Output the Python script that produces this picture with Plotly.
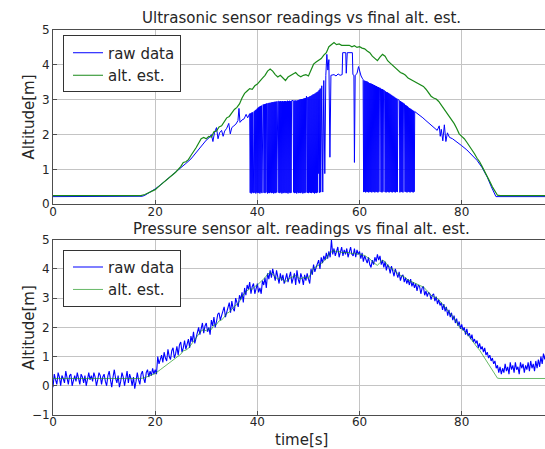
import plotly.graph_objects as go

# ---------------- data ----------------
# final altitude estimate (shared by both panels)
est_t = [0, 17.2, 18, 19, 20, 21, 22, 23, 24, 25,
         25.5, 26, 26.5, 27, 28, 29, 29.5, 30, 30.5, 31,
         31.5, 32, 32.5, 33, 33.5, 34, 34.5, 35, 35.5, 36,
         36.5, 37, 37.5, 38, 38.5, 39, 39.5, 40, 40.5, 41,
         41.5, 42, 42.5, 43, 43.5, 44, 44.5, 45, 45.5, 46,
         46.5, 47, 47.5, 48, 48.5, 49, 49.5, 50, 50.5, 51,
         51.5, 52, 52.5, 53, 53.5, 54, 54.5, 55, 55.5, 56,
         56.5, 57, 57.5, 58, 58.5, 59, 59.5, 60, 60.5, 61,
         61.5, 62, 62.5, 63, 63.5, 64, 64.5, 65, 65.5, 66,
         66.5, 67, 67.5, 68, 68.5, 69, 69.5, 70, 70.5, 71,
         71.5, 72, 72.5, 73, 73.5, 74, 74.5, 75, 75.5, 76,
         76.5, 77, 77.5, 78, 78.5, 79, 79.5, 80, 80.5, 81,
         81.5, 82, 82.5, 83, 83.5, 84, 84.5, 85, 85.5, 86,
         86.5, 87, 87.5, 100]
est_v = [0.25, 0.25, 0.28, 0.35, 0.42, 0.55, 0.68, 0.80, 0.92, 1.08,
         1.20, 1.22, 1.28, 1.40, 1.62, 1.88, 1.92, 1.88, 1.95, 1.93,
         2.08, 2.10, 2.22, 2.25, 2.35, 2.48, 2.52, 2.62, 2.72, 2.78,
         2.88, 3.05, 3.18, 3.25, 3.32, 3.30, 3.40, 3.45, 3.55, 3.62,
         3.70, 3.82, 3.88, 3.82, 3.72, 3.65, 3.70, 3.62, 3.55, 3.65,
         3.70, 3.75, 3.78, 3.70, 3.66, 3.70, 3.72, 3.68, 3.85, 4.02,
         4.08, 4.12, 4.18, 4.28, 4.35, 4.52, 4.58, 4.64, 4.58, 4.60,
         4.56, 4.56, 4.54, 4.56, 4.52, 4.55, 4.50, 4.52, 4.48, 4.46,
         4.40, 4.35, 4.25, 4.18, 4.12, 4.22, 4.30, 4.25, 4.12, 4.05,
         3.98, 3.92, 3.85, 3.78, 3.75, 3.70, 3.62, 3.58, 3.55, 3.52,
         3.48, 3.42, 3.38, 3.30, 3.18, 3.10, 3.05, 3.02, 2.95, 2.85,
         2.75, 2.62, 2.52, 2.45, 2.32, 2.18, 2.02, 1.95, 1.88, 1.78,
         1.68, 1.55, 1.45, 1.32, 1.22, 1.08, 0.95, 0.80, 0.65, 0.50,
         0.38, 0.26, 0.25, 0.25]

# ultrasonic sensor raw readings, in five stretches
# (a) take-off and climb
us_t_a = [0, 17.0, 17.5, 18, 19, 20, 21, 22, 23, 24,
          25, 26, 27, 28, 28.5, 29, 29.5, 30, 30.5, 31,
          31.3, 31.6, 32, 32.3, 32.6, 33, 33.3, 33.6, 34, 34.4,
          34.7, 35, 35.4, 35.8, 36.2, 36.4, 36.6, 37, 37.4, 37.8,
          38.1, 38.4]
us_v_a = [0.22, 0.21, 0.23, 0.26, 0.34, 0.44, 0.55, 0.67, 0.79, 0.92,
          1.04, 1.17, 1.30, 1.48, 1.58, 1.68, 1.78, 1.84, 1.90, 2.00,
          1.80, 2.05, 2.20, 1.88, 2.05, 2.12, 1.95, 2.10, 2.18, 2.32,
          2.02, 2.20, 2.25, 2.30, 2.40, 2.75, 2.35, 2.42, 2.45, 2.58,
          2.48, 2.55]
# (b) out-of-range dropouts, 10 Hz samples from 38.5 s to 52.4 s
us_t_b = [round(38.5 + 0.1 * i, 1) for i in range(140)]
us_v_b = [2.60, 0.33, 2.61, 0.31, 2.63, 0.34, 2.64, 0.32, 2.66, 2.67,
          0.33, 2.70, 0.31, 2.72, 0.34, 2.75, 0.32, 2.78, 0.33, 2.80,
          0.31, 2.82, 0.34, 2.83, 0.32, 2.85, 2.86, 2.86, 0.33, 2.87,
          0.32, 2.88, 0.34, 2.89, 2.89, 0.31, 2.90, 0.33, 2.91, 0.32,
          2.91, 0.34, 2.92, 0.32, 2.93, 0.33, 2.93, 0.31, 2.94, 0.33,
          2.94, 0.32, 2.95, 0.34, 2.95, 2.95, 2.96, 0.33, 2.95, 0.32,
          2.96, 0.34, 2.95, 0.31, 2.96, 0.33, 2.95, 0.32, 2.96, 0.34,
          2.96, 0.32, 2.95, 0.33, 2.97, 0.31, 2.96, 0.34, 2.97, 0.32,
          2.96, 0.33, 2.97, 2.98, 2.97, 2.98, 0.34, 2.97, 0.32, 2.98,
          0.33, 2.97, 0.31, 2.98, 0.34, 2.99, 0.32, 3.00, 0.33, 3.01,
          0.32, 3.02, 0.34, 3.02, 0.31, 3.03, 0.33, 3.04, 0.32, 3.05,
          0.34, 3.10, 3.06, 0.33, 3.07, 0.32, 3.08, 0.34, 3.10, 0.33,
          3.11, 0.32, 3.13, 0.34, 3.15, 0.33, 3.16, 0.31, 3.18, 0.33,
          3.20, 0.32, 3.22, 0.34, 3.24, 0.88, 3.28, 0.33, 3.32, 0.35]
# (c) near the peak
us_t_c = [52.6, 52.8, 53.0, 53.2, 53.4, 53.6, 53.8, 54.0, 54.2, 54.4,
          55.0, 55.4, 55.8, 56.2, 56.6, 56.7, 57.3, 57.4, 57.6, 58.6,
          58.7, 58.9, 59.0, 59.15, 59.5, 59.8, 60.0, 60.3, 60.6]
us_v_c = [3.40, 0.35, 3.55, 0.88, 3.70, 4.30, 3.85, 4.15, 1.35, 3.70,
          3.72, 3.68, 3.74, 3.70, 3.72, 4.35, 4.35, 3.76, 4.35, 4.35,
          3.72, 3.70, 1.20, 3.70, 3.75, 3.95, 3.80, 3.68, 3.60]
# (d) dropouts on the way down, 10 Hz samples from 60.7 s to 70.8 s
us_t_d = [round(60.7 + 0.1 * i, 1) for i in range(102)]
us_v_d = [3.58, 0.35, 3.55, 0.36, 3.54, 0.34, 3.53, 0.36, 3.52, 0.35,
          3.50, 0.34, 3.48, 0.36, 3.47, 0.35, 3.46, 0.34, 3.45, 0.36,
          3.43, 0.35, 3.42, 0.34, 3.40, 0.36, 3.39, 0.35, 3.37, 0.34,
          3.36, 0.36, 3.34, 3.33, 3.33, 0.35, 3.31, 0.34, 3.30, 0.36,
          3.28, 3.27, 3.26, 0.35, 3.24, 0.34, 3.22, 0.36, 3.21, 0.35,
          3.19, 0.34, 3.17, 0.36, 3.15, 0.35, 3.13, 0.34, 3.11, 0.36,
          3.09, 0.35, 3.07, 0.34, 3.05, 0.36, 3.03, 0.35, 3.01, 3.00,
          2.99, 2.98, 0.34, 2.96, 0.36, 2.94, 0.35, 2.92, 0.34, 2.90,
          2.89, 2.88, 0.36, 2.85, 0.35, 2.83, 0.34, 2.81, 0.36, 2.78,
          0.35, 2.76, 0.34, 2.74, 0.36, 2.72, 0.35, 2.70, 0.34, 2.68,
          0.36, 2.66]
# (e) descent and landing
us_t_e = [71.2, 71.8, 72.4, 73.0, 73.6, 74.2, 74.8, 75.2, 75.6, 75.8,
          76.0, 76.3, 76.6, 76.9, 77.2, 77.6, 78.2, 79.0, 80.0, 81.0,
          82.0, 83.0, 84.0, 85.0, 85.8, 86.4, 86.7, 100]
us_v_e = [2.62, 2.55, 2.48, 2.40, 2.32, 2.25, 2.18, 2.12, 2.25, 1.95,
          2.15, 1.82, 2.28, 1.80, 2.05, 1.92, 1.88, 1.78, 1.68, 1.56,
          1.42, 1.26, 1.05, 0.78, 0.50, 0.30, 0.22, 0.22]

# pressure sensor raw readings, 4 Hz samples from 0 to 100 s
pr_t = [i * 0.25 for i in range(401)]
pr_v = [
    -0.05, 0.40, 0.20, 0.05, 0.45, 0.30, 0.00, 0.35, 0.25, 0.10,
    0.50, 0.30, 0.05, 0.35, 0.40, 0.00, 0.20, 0.35, 0.15, 0.45,
    0.25, 0.05, 0.40, 0.30, 0.10, 0.35, 0.00, 0.25, 0.45, 0.20,
    0.35, 0.15, 0.45, 0.30, 0.00, 0.20, 0.45, 0.35, 0.05, 0.30,
    0.40, 0.15, 0.00, 0.35, 0.50, 0.20, -0.05, 0.30, 0.55, 0.25,
    0.10, 0.35, -0.05, 0.15, 0.45, 0.30, 0.00, 0.25, 0.50, 0.10,
    0.40, 0.25, 0.00, 0.30, -0.10, 0.15, 0.45, 0.20, 0.05, 0.40,
    0.50, 0.25, 0.10, 0.45, 0.55, 0.30, 0.50, 0.35, 0.60, 0.40,
    0.55, 0.40, 1.00, 0.75, 0.90, 1.05, 0.80, 1.15, 0.95, 0.85,
    1.25, 1.00, 0.90, 1.20, 1.30, 0.95, 1.10, 1.35, 1.05, 1.40,
    1.50, 1.15, 1.30, 1.55, 1.25, 1.45, 1.60, 1.30, 1.70, 1.50,
    1.85, 1.45, 1.65, 1.90, 2.00, 1.75, 1.95, 2.15, 1.80, 2.05,
    2.15, 1.85, 2.00, 1.75, 2.25, 2.05, 2.35, 2.00, 2.20, 2.45,
    2.50, 2.25, 2.40, 2.55, 2.70, 2.35, 2.55, 2.75, 2.85, 2.50,
    2.90, 2.65, 2.55, 3.00, 2.85, 2.70, 3.10, 2.95, 3.20, 2.85,
    3.35, 3.10, 3.45, 3.30, 3.55, 3.15, 3.40, 3.50, 3.15, 3.35,
    3.50, 3.20, 3.35, 3.15, 3.60, 3.45, 3.70, 3.35, 3.85, 3.65,
    3.95, 3.70, 4.00, 3.80, 3.60, 3.95, 3.75, 3.50, 3.85, 3.60,
    3.80, 3.50, 3.65, 3.85, 3.55, 3.75, 3.90, 3.50, 3.70, 3.85,
    3.45, 3.95, 3.65, 3.50, 3.85, 3.70, 3.45, 3.80, 3.60, 3.85,
    3.65, 3.50, 4.00, 3.80, 4.15, 3.90, 4.05, 4.20, 4.30, 4.00,
    4.40, 4.20, 4.45, 4.30, 4.55, 4.35, 4.60, 4.40, 5.00, 4.50,
    4.70, 4.45, 4.60, 4.75, 4.40, 4.55, 4.75, 4.45, 4.65, 4.50,
    4.70, 4.40, 4.60, 4.75, 4.50, 4.45, 4.70, 4.40, 4.65, 4.50,
    4.60, 4.35, 4.55, 4.25, 4.45, 4.30, 4.20, 4.40, 4.15, 4.05,
    4.30, 4.15, 4.40, 4.25, 4.50, 4.30, 4.45, 4.15, 4.30, 4.05,
    4.25, 3.95, 4.15, 4.05, 3.85, 4.10, 3.95, 3.75, 4.00, 3.80,
    3.70, 3.90, 3.60, 3.75, 3.80, 3.55, 3.70, 3.50, 3.65, 3.45,
    3.65, 3.40, 3.55, 3.35, 3.50, 3.25, 3.45, 3.40, 3.15, 3.35,
    3.40, 3.10, 3.25, 3.05, 3.20, 3.15, 2.95, 3.10, 3.15, 2.90,
    3.05, 2.80, 2.95, 2.75, 2.85, 2.60, 2.80, 2.55, 2.70, 2.40,
    2.60, 2.35, 2.50, 2.25, 2.40, 2.15, 2.30, 2.05, 2.20, 1.95,
    2.10, 1.90, 2.00, 1.75, 1.95, 1.70, 1.80, 1.60, 1.75, 1.50,
    1.60, 1.45, 1.55, 1.30, 1.45, 1.25, 1.35, 1.15, 1.30, 1.05,
    1.15, 0.95, 1.05, 0.85, 0.95, 0.75, 0.85, 0.60, 0.70, 0.45,
    0.65, 0.40, 0.60, 0.45, 0.75, 0.50, 0.65, 0.40, 0.80, 0.55,
    0.70, 0.45, 0.80, 0.55, 0.65, 0.40, 0.80, 0.60, 0.75, 0.45,
    0.70, 0.55, 0.80, 0.50, 0.85, 0.60, 0.75, 0.50, 0.85, 0.60,
    0.90, 0.65, 1.00, 0.75, 1.10, 0.90, 1.15, 0.95, 1.10, 0.85,
    1.15, 0.90, 1.10, 0.85, 1.15, 0.90, 1.10, 0.85, 1.15, 0.90,
    1.05]

x_ticks = [0, 20, 40, 60, 80]
top_y_ticks = [0, 1, 2, 3, 4, 5]
bot_y_ticks = [-1, 0, 1, 2, 3, 4, 5]

us_t = us_t_a + us_t_b + us_t_c + us_t_d + us_t_e
us_v = us_v_a + us_v_b + us_v_c + us_v_d + us_v_e

# ---------------- styling ----------------
FONT = "DejaVu Sans"
TXT = "#262626"
BLUE = "#0000ff"
GREEN = "#1a8a1a"
GRID = "#c4c4c4"
SPINE = "#4d4d4d"

W, H = 545, 449
ML, MR, MT, MB = 53, 0, 29.5, 34
PH = H - MT - MB


def py(pix):
    """pixel row -> paper y"""
    return (H - MB - pix) / PH


def px(pix):
    """pixel column -> paper x"""
    return (pix - ML) / (W - ML - MR)


fig = go.Figure()

fig.add_trace(go.Scatter(x=us_t, y=us_v, mode="lines", name="raw data",
                         line=dict(color=BLUE, width=1), xaxis="x", yaxis="y",
                         legend="legend"))
fig.add_trace(go.Scatter(x=est_t, y=est_v, mode="lines", name="alt. est.",
                         line=dict(color=GREEN, width=1.2), xaxis="x", yaxis="y",
                         legend="legend"))
fig.add_trace(go.Scatter(x=pr_t, y=pr_v, mode="lines", name="raw data",
                         line=dict(color=BLUE, width=1.1), xaxis="x2", yaxis="y2",
                         legend="legend2"))
fig.add_trace(go.Scatter(x=est_t, y=est_v, mode="lines", name="alt. est.",
                         line=dict(color="rgba(30,150,30,0.75)", width=0.9),
                         xaxis="x2", yaxis="y2", legend="legend2"))

xcommon = dict(range=[0, 96.3], tickvals=x_ticks, showgrid=True, gridcolor=GRID,
               gridwidth=1, showline=True, linecolor=SPINE, linewidth=1, mirror=True,
               ticks="inside", ticklen=4, tickcolor=SPINE, zeroline=False,
               tickfont=dict(family=FONT, size=12, color=TXT))
ycommon = dict(showgrid=True, gridcolor=GRID, gridwidth=1, showline=True,
               linecolor=SPINE, linewidth=1, ticks="inside", ticklen=4,
               tickcolor=SPINE, zeroline=False,
               tickfont=dict(family=FONT, size=12, color=TXT))

top_lo = py(204)
bot_hi = py(239.5)

legend_style = dict(bgcolor="white", bordercolor="#333333", borderwidth=1,
                    font=dict(family=FONT, size=15, color=TXT),
                    xanchor="left", yanchor="top", itemwidth=30,
                    tracegroupgap=0, indentation=4)

fig.update_layout(
    width=W, height=H, margin=dict(l=ML, r=MR, t=MT, b=MB),
    paper_bgcolor="white", plot_bgcolor="white",
    xaxis=dict(domain=[0, 1], anchor="y", **xcommon),
    yaxis=dict(domain=[top_lo, 1], anchor="x", range=[0, 5],
               tickvals=top_y_ticks, **ycommon),
    xaxis2=dict(domain=[0, 1], anchor="y2", **xcommon),
    yaxis2=dict(domain=[0, bot_hi], anchor="x2", range=[-1, 5],
                tickvals=bot_y_ticks, **ycommon),
    legend=dict(x=px(63), y=py(35), **legend_style),
    legend2=dict(x=px(63), y=py(249.5), **legend_style),
    showlegend=True,
)

# pull the x tick labels a little closer to the axis line
try:
    fig.update_xaxes(ticklabelstandoff=-4)
except ValueError:
    pass

title_font = dict(family=FONT, size=15, color=TXT)
lab_font = dict(family=FONT, size=15, color=TXT)
fig.add_annotation(text="Ultrasonic sensor readings vs final alt. est.",
                   x=px(301), y=py(17), xref="paper", yref="paper",
                   showarrow=False, font=title_font, xanchor="center", yanchor="middle")
fig.add_annotation(text="Pressure sensor alt. readings vs final alt. est.",
                   x=px(301), y=py(229), xref="paper", yref="paper",
                   showarrow=False, font=title_font, xanchor="center", yanchor="middle")
fig.add_annotation(text="Altitude[m]", x=px(29), y=py(117), xref="paper", yref="paper",
                   showarrow=False, font=lab_font, textangle=-90,
                   xanchor="center", yanchor="middle")
fig.add_annotation(text="Altitude[m]", x=px(29), y=py(328), xref="paper", yref="paper",
                   showarrow=False, font=lab_font, textangle=-90,
                   xanchor="center", yanchor="middle")
fig.add_annotation(text="time[s]", x=px(301), y=py(440), xref="paper", yref="paper",
                   showarrow=False, font=lab_font, xanchor="center", yanchor="middle")

fig.write_html("out.html")
